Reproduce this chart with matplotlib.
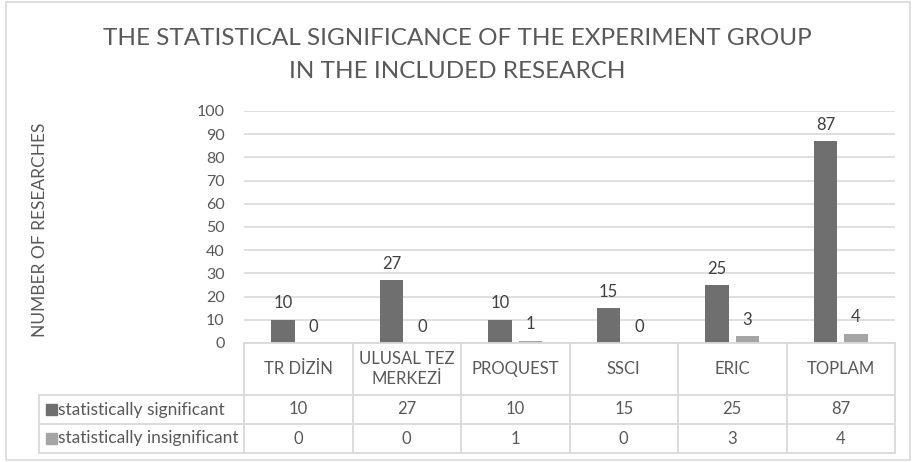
import numpy as np
import matplotlib
matplotlib.use("Agg")
import matplotlib.pyplot as plt
from matplotlib.patches import Rectangle

categories = ["TR DİZİN", "ULUSAL TEZ\nMERKEZİ", "PROQUEST", "SSCI", "ERIC", "TOPLAM"]
series_names = ["statistically significant", "statistically insignificant"]
significant = [10, 27, 10, 15, 25, 87]
insignificant = [0, 0, 1, 0, 3, 4]
y_ticks = [0, 10, 20, 30, 40, 50, 60, 70, 80, 90, 100]

title = "THE STATISTICAL SIGNIFICANCE OF THE EXPERIMENT GROUP\nIN THE INCLUDED RESEARCH"
y_label = "NUMBER OF RESEARCHES"

DARK = "#6f6f6f"
LIGHT = "#a5a5a5"
TEXT = "#595959"
GRID = "#d9d9d9"


def make_chart():
    plt.rcParams["font.family"] = ["Lato", "DejaVu Sans"]
    W, H = 914, 462
    fig = plt.figure(figsize = (W / 100, H / 100), dpi = 100)

    # pixel helpers (top-left origin)
    def fx(px):
        return px / W

    def fy(py):
        return 1 - py / H

    left, right, top, bottom = 244, 895, 111, 343
    ax = fig.add_axes([fx(left), fy(bottom), fx(right) - fx(left), fy(top) - fy(bottom)])

    x = np.arange(len(categories))
    width = 0.217
    off = 0.141
    series = [significant, insignificant]
    colors = [DARK, LIGHT]
    for i, (vals, col) in enumerate(zip(series, colors)):
        pos = x + (off if i else -off)
        bars = ax.bar(pos, vals, width, color = col, zorder = 3)
        for b, v in zip(bars, vals):
            ax.annotate(str(v), (b.get_x() + b.get_width() / 2, b.get_height()),
                        xytext = (0, 6), textcoords = "offset points",
                        ha = "center", va = "bottom", fontsize = 12, color = "#404040")

    ax.set_xlim(-0.5, len(categories) - 0.5)
    ax.set_ylim(0, 100)
    ax.set_yticks(y_ticks)
    ax.tick_params(axis = "y", length = 0, labelsize = 11.5, labelcolor = TEXT, pad = 14)
    ax.set_xticks([])
    ax.grid(axis = "y", color = GRID, linewidth = 1.2, zorder = 0)
    for s in ax.spines.values():
        s.set_visible(False)

    # data table below the plot
    row_h = [52, 29, 29]
    label_left = 39
    cat_w = (right - left) / len(categories)
    y0 = bottom
    y_rows = [y0, y0 + row_h[0], y0 + row_h[0] + row_h[1], y0 + sum(row_h)]
    lc = dict(color = GRID, linewidth = 1.3)

    def hline(y, x1, x2):
        fig.add_artist(plt.Line2D([fx(x1), fx(x2)], [fy(y), fy(y)], **lc))

    def vline(xp, y1, y2):
        fig.add_artist(plt.Line2D([fx(xp), fx(xp)], [fy(y1), fy(y2)], **lc))

    hline(y_rows[0], left, right)
    for yy in y_rows[1:]:
        hline(yy, label_left, right)
    vline(label_left, y_rows[1], y_rows[3])
    for k in range(len(categories) + 1):
        vline(left + k * cat_w, y_rows[0], y_rows[3])

    for k, cat in enumerate(categories):
        cx = left + (k + 0.5) * cat_w
        fig.text(fx(cx), fy((y_rows[0] + y_rows[1]) / 2), cat, ha = "center", va = "center",
                 fontsize = 12, color = TEXT, linespacing = 1.35)
        for r, vals in enumerate(series):
            fig.text(fx(cx), fy((y_rows[r + 1] + y_rows[r + 2]) / 2), str(vals[k]),
                     ha = "center", va = "center", fontsize = 12, color = TEXT)

    for r, (name, col) in enumerate(zip(series_names, colors)):
        cy = (y_rows[r + 1] + y_rows[r + 2]) / 2
        fig.add_artist(Rectangle((fx(46), fy(cy + 5.5)), fx(11), 11 / H, color = col,
                                 transform = fig.transFigure))
        fig.text(fx(58), fy(cy), name, ha = "left", va = "center", fontsize = 12.5, color = TEXT)

    fig.text(fx(40), fy(230), y_label, rotation = 90, ha = "center", va = "center",
             fontsize = 12.5, color = TEXT)
    fig.text(0.5, fy(55), title, ha = "center", va = "center", fontsize = 17.5,
             color = TEXT, linespacing = 1.65)

    # outer chart border
    fig.add_artist(Rectangle((fx(6), fy(460)), fx(904), 458 / H, fill = False,
                             edgecolor = GRID, linewidth = 1.2, transform = fig.transFigure))

    fig.savefig("out.png", dpi = 100)


if __name__ == "__main__":
    make_chart()
